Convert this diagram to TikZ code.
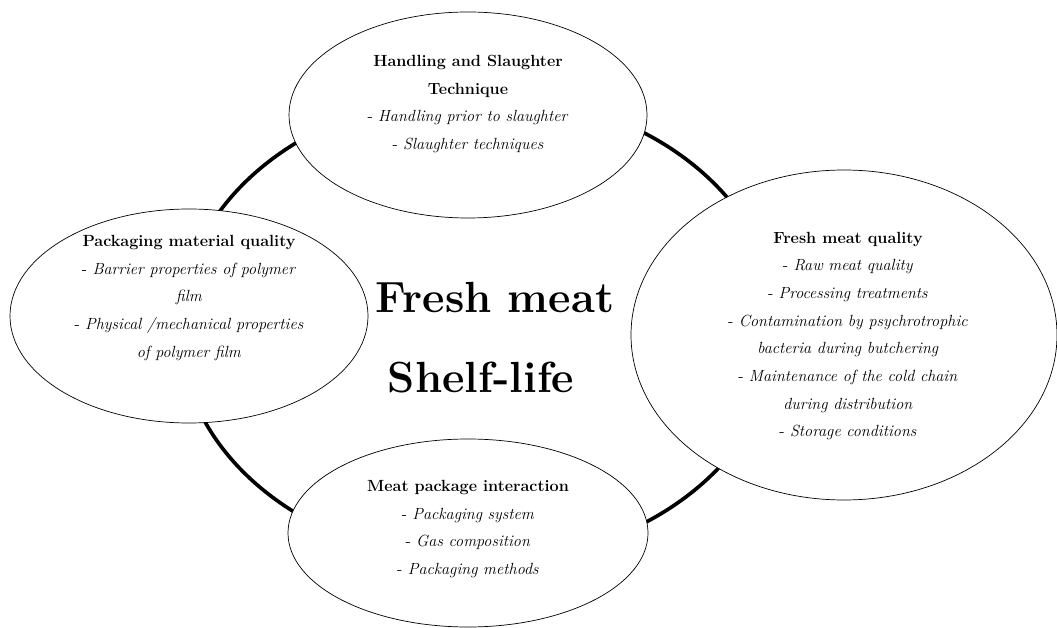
\documentclass[tikz,border=0pt]{standalone}
\usepackage{tikz}
\usetikzlibrary{calc}
\tikzset{
  bubble/.style={draw=black, line width=0.5pt, fill=white},
  ring/.style={draw=black, line width=2.6pt},
  topic/.style={align=center, font=\fontsize{11.5}{19.7}\selectfont},
  title/.style={align=left, font=\fontsize{31}{57}\selectfont\bfseries}
}

\begin{document}
\begin{tikzpicture}[x=0.025cm, y=0.025cm]
			%%%%% START %%%%%
			\useasboundingbox (0, 0) rectangle (1057, -628);
			
			\draw[ring] (479, -328) ellipse (299 and 234);
			
			\draw[bubble] (468, -115) ellipse (179 and 103);
			\draw[bubble] (189, -316) ellipse (179 and 107);
			\draw[bubble] (844, -335) ellipse (213 and 165);
			\draw[bubble] (468, -533) ellipse (180 and 94);
			
			\node[title] (shelf) at (495, -338) {Fresh meat\\\hspace{0.3cm}Shelf-life};
			
			\node[topic] (slaughter) at (468, -104) {\textbf{Handling and Slaughter}\\\textbf{Technique}\\- \textit{Handling prior to slaughter}\\- \textit{Slaughter techniques}};
			
			\node[topic] (packmat) at (189, -298) {\textbf{Packaging material quality}\\- \textit{Barrier properties of polymer}\\\textit{film}\\- \textit{Physical /mechanical properties}\\\textit{of polymer film}};
			
			\node[topic] (meatqual) at (848, -336) {\textbf{Fresh meat quality}\\- \textit{Raw meat quality}\\- \textit{Processing treatments}\\- \textit{Contamination by psychrotrophic}\\\textit{bacteria during butchering}\\- \textit{Maintenance of the cold chain}\\\textit{during distribution}\\- \textit{Storage conditions}};
			
			\node[topic] (interact) at (468, -529) {\textbf{Meat package interaction}\\- \textit{Packaging system}\\- \textit{Gas composition}\\- \textit{Packaging methods}};
			
			%%%%% END %%%%%
		\end{tikzpicture}
\end{document}
